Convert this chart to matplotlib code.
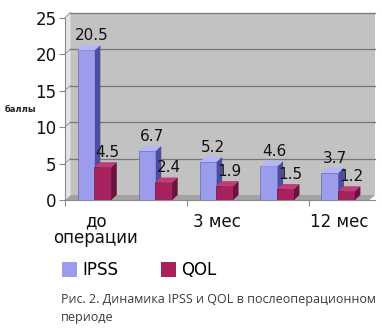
import matplotlib
matplotlib.use("Agg")
import matplotlib.pyplot as plt
from matplotlib.patches import Polygon, Patch

categories = ["до\nоперации", "1 мес", "3 мес", "6 мес", "12 мес"]
shown = [0, 2, 4]
ipss = [20.5, 6.7, 5.2, 4.6, 3.7]
qol = [4.5, 2.4, 1.9, 1.5, 1.2]
series = [("IPSS", ipss), ("QOL", qol)]
yticks = [0, 5, 10, 15, 20, 25]

# front / top / side colours for the fake 3d bars
colors = {
    "IPSS": ("#9c9cec", "#b4b4ff", "#4c4ca0"),
    "QOL": ("#a8215f", "#c23a78", "#6a1240"),
}
offsets = {"IPSS": -0.15, "QOL": 0.12}
width = 0.28

W, H = 382, 332
fig = plt.figure(figsize=(W / 100, H / 100), dpi=100)
left, right, bottom, top = 65, 375, 200, 17.5
ax = fig.add_axes([left / W, 1 - bottom / H, (right - left) / W, (bottom - top) / H])
ax.set_facecolor("none")

n = len(categories)
xmin, xmax = -0.5, n - 0.5
px_x = (right - left) / (xmax - xmin + 0.08)
px_y = (bottom - top) / 25
ddx, ddy = 5.5 / px_x, 5 / px_y
ax.set_xlim(xmin, xmax + ddx)
ax.set_ylim(0, 25)

# back wall, floor, left side wall
ax.add_patch(Polygon([(xmin + ddx, ddy), (xmax + ddx, ddy), (xmax + ddx, 25 + ddy),
                      (xmin + ddx, 25 + ddy)], closed=True, fc="#c2c2c2", ec="none",
                     clip_on=False, zorder=0))
ax.add_patch(Polygon([(xmin, 0), (xmax, 0), (xmax + ddx, ddy), (xmin + ddx, ddy)],
                     closed=True, fc="#a2a2a2", ec="none", clip_on=False, zorder=0.5))
ax.add_patch(Polygon([(xmin, 0), (xmin + ddx, ddy), (xmin + ddx, 25 + ddy), (xmin, 25)],
                     closed=True, fc="#e4e4e4", ec="none", clip_on=False, zorder=0.5))

for v in yticks[1:]:
    ax.plot([xmin + ddx, xmax + ddx], [v + ddy, v + ddy], color="#767676", lw=0.9,
            clip_on=False, zorder=1)
    ax.plot([xmin, xmin + ddx], [v, v + ddy], color="#9a9a9a", lw=0.7,
            clip_on=False, zorder=1)

for name, vals in series:
    front, topc, side = colors[name]
    edge = "#5a5a8a" if name == "IPSS" else "#5a1030"
    for i, h in enumerate(vals):
        x0 = i + offsets[name] - width / 2
        x1 = x0 + width
        ax.bar(x0, h, width, align="edge", color=front, edgecolor=edge, lw=0.4, zorder=3)
        ax.add_patch(Polygon([(x0, h), (x1, h), (x1 + ddx, h + ddy), (x0 + ddx, h + ddy)],
                             closed=True, fc=topc, ec="none", zorder=3))
        ax.add_patch(Polygon([(x1, 0), (x1 + ddx, ddy), (x1 + ddx, h + ddy), (x1, h)],
                             closed=True, fc=side, ec="none", zorder=3))
        ax.annotate(f"{h:.1f}", (x0 + width / 2 + ddx * 0.9, h + ddy), xytext=(0, 1.5),
                    textcoords="offset points", ha="center", va="bottom",
                    fontsize=11, color="#111111", zorder=4)

for s in ["top", "right", "bottom"]:
    ax.spines[s].set_visible(False)
ax.spines["left"].set_color("#8a8a8a")
ax.spines["left"].set_linewidth(0.8)
ax.plot([xmin, xmax + ddx], [0, 0], color="#8a8a8a", lw=0.8, clip_on=False, zorder=2)

ax.set_yticks(yticks)
ax.tick_params(axis="y", length=4, color="#8a8a8a", labelsize=12, pad=2, labelcolor="#111111")
ax.set_xticks([xmin, 1.5, 3.5])
ax.set_xticklabels([])
ax.tick_params(axis="x", which="major", length=4, color="#8a8a8a")
ax.set_xticks(shown, minor=True)
ax.set_xticklabels([categories[i] for i in shown], minor=True, fontsize=12,
                   linespacing=0.92, color="#111111")
ax.tick_params(axis="x", which="minor", length=0, pad=9)

fig.text(5 / W, 1 - 110 / H, "баллы", fontsize=6, color="#222222", va="center",
         fontweight="bold")

handles = [Patch(fc=colors[name][0], ec="none", label=name) for name, _ in series]
fig.legend(handles=handles, loc="upper left", bbox_to_anchor=(62 / W, 1 - 261 / H), ncol=2,
           frameon=False, fontsize=12, handlelength=0.9, handleheight=1.0,
           handletextpad=0.3, columnspacing=2.6, borderaxespad=0, borderpad=0)

fig.text(61 / W, 1 - 300 / H, "Рис. 2. Динамика IPSS и QOL в послеоперационном",
         fontsize=9.0, family="Open Sans", color="#3a3a3a", va="center")
fig.text(61 / W, 1 - 317 / H, "периоде", fontsize=9.0, family="Open Sans",
         color="#3a3a3a", va="center")

fig.savefig("out.png", dpi=100, facecolor="white")
